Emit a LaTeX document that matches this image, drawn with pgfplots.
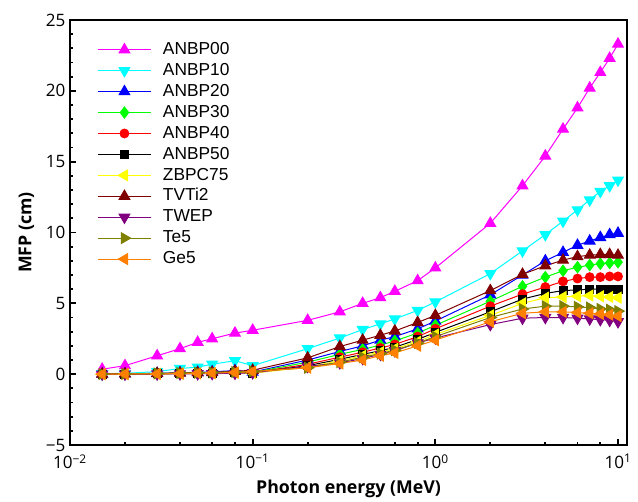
\documentclass[border=0pt]{standalone}
\usepackage{fontspec}
\setmainfont{Open Sans}
\newfontfamily\legfont{Liberation Sans}
\usepackage{pgfplots}
\usepackage{pgfplotstable}
\pgfplotsset{compat=1.18}

\definecolor{cMag}{RGB}{255,0,255}
\definecolor{cCyan}{RGB}{0,255,255}
\definecolor{cBlue}{RGB}{0,0,255}
\definecolor{cGreen}{RGB}{0,255,0}
\definecolor{cRed}{RGB}{255,0,0}
\definecolor{cBlack}{RGB}{0,0,0}
\definecolor{cYellow}{RGB}{255,255,0}
\definecolor{cMaroon}{RGB}{128,0,0}
\definecolor{cPurple}{RGB}{128,0,128}
\definecolor{cOlive}{RGB}{128,128,0}
\definecolor{cOrange}{RGB}{255,128,0}

\pgfplotstableread{
E     A00   A10   A20   A30   A40   A50   Z75   TV    TW    Te    Ge
0.015 0.35  0.03  0.01  0.01  0.00  0.00  0.00  0.01  0.00  0.01  0.00
0.02  0.6   0.06  0.02  0.01  0.01  0.00  0.00  0.02  0.00  0.02  0.01
0.03  1.3   0.18  0.06  0.04  0.03  0.02  0.02  0.05  0.01  0.05  0.02
0.04  1.8   0.4   0.10  0.08  0.06  0.05  0.04  0.08  0.02  0.08  0.04
0.05  2.25  0.5   0.13  0.10  0.08  0.06  0.05  0.10  0.03  0.10  0.06
0.06  2.5   0.7   0.17  0.12  0.10  0.08  0.07  0.12  0.04  0.12  0.08
0.08  2.9   0.95  0.25  0.18  0.15  0.12  0.10  0.20  0.06  0.15  0.12
0.1   3.1   0.6   0.15  0.12  0.10  0.08  0.07  0.28  0.10  0.20  0.18
0.2   3.8   1.8   1.0   0.85  0.7   0.6   0.5   1.15  0.55  0.45  0.45
0.3   4.4   2.55  1.6   1.4   1.2   1.05  0.95  1.95  0.8   0.85  0.75
0.4   5.0   3.15  2.0   1.75  1.55  1.4   1.3   2.4   1.1   1.2   1.0
0.5   5.4   3.55  2.4   2.05  1.85  1.65  1.55  2.75  1.4   1.45  1.3
0.6   5.85  3.9   2.65  2.35  2.1   1.9   1.8   3.05  1.65  1.7   1.5
0.8   6.6   4.5   3.2   2.9   2.65  2.45  2.3   3.65  2.2   2.2   2.0
1     7.5   5.1   3.75  3.45  3.2   2.95  2.8   4.15  2.55  2.65  2.4
2     10.65 7.1   5.6   5.15  4.8   4.4   4.15  5.9   3.5   4.0   3.7
3     13.3  8.7   7.0   6.2   5.65  5.3   5.0   7.05  3.95  4.6   4.3
4     15.4  9.85  8.0   6.85  6.15  5.7   5.4   7.65  4.0   4.8   4.4
5     17.3  10.8  8.6   7.3   6.55  5.9   5.45  8.05  4.0   4.8   4.4
6     18.8  11.6  9.1   7.55  6.75  5.95  5.5   8.3   3.95  4.75  4.35
7     20.2  12.3  9.4   7.7   6.85  6.0   5.55  8.4   3.9   4.7   4.3
8     21.3  12.9  9.65  7.8   6.85  6.0   5.5   8.45  3.85  4.6   4.25
9     22.3  13.3  9.85  7.85  6.9   5.95  5.45  8.45  3.8   4.55  4.2
10    23.3  13.7  9.95  7.9   6.9   5.95  5.4   8.4   3.7   4.45  4.1
}\data

\begin{document}
\begin{tikzpicture}
\begin{axis}[
  at={(0,0)}, anchor=south west,
  scale only axis,
  width=417.75pt, height=318.75pt,
  xmode=log,
  xmin=0.01, xmax=11.2,
  ymin=-5, ymax=25,
  axis line style={line width=1.6pt},
  tick align=inside,
  xtick pos=bottom, ytick pos=left,
  major tick length=4.5pt, minor tick length=2.6pt,
  every tick/.style={line width=1.3pt, black},
  xtick={0.01,0.1,1,10},
  xticklabels={10\textsuperscript{−2},10\textsuperscript{−1},10\textsuperscript{0},10\textsuperscript{1}},
  minor xtick={0.02,0.04,0.06,0.08,0.2,0.4,0.6,0.8,2,4,6,8},
  ytick={-5,0,5,10,15,20,25},
  yticklabels={−5,0,5,10,15,20,25},
  minor ytick={-4,-3,-2,-1,1,2,3,4,6,7,8,9,11,12,13,14,16,17,18,19,21,22,23,24},
  tick label style={font=\fontsize{12.8}{14}\selectfont},
  xticklabel style={yshift=-3.5pt},
  xlabel={\bfseries Photon energy (MeV)},
  ylabel={\bfseries MFP (cm)},
  label style={font=\fontsize{13.3}{15}\selectfont},
  x label style={at={(axis description cs:0.5,-0.104)}, anchor=center},
  y label style={at={(axis description cs:-0.078,0.5)}, anchor=center},
  legend cell align=left,
  legend style={at={(axis description cs:0.0485,0.9526)}, anchor=north west,
    draw=none, fill=none, inner sep=0pt, row sep=1.7pt,
    nodes={inner sep=1pt, text height=9.5pt, text depth=2.5pt},
    font=\legfont\fontsize{13}{15}\selectfont},
  legend image code/.code={\draw[mark repeat=2,mark phase=2] plot coordinates {(0pt,0pt)(20pt,0pt)(40pt,0pt)};\path (47.5pt,0pt);},
  every axis plot/.append style={line width=0.75pt},
]
\addplot[color=cMag, mark=triangle*, mark size=4.6pt] table[x=E,y=A00] {\data};
\addlegendentry{ANBP00}
\addplot[color=cCyan, mark=triangle*, mark options={rotate=180}, mark size=4.6pt] table[x=E,y=A10] {\data};
\addlegendentry{ANBP10}
\addplot[color=cBlue, mark=triangle*, mark size=4.6pt] table[x=E,y=A20] {\data};
\addlegendentry{ANBP20}
\addplot[color=cGreen, mark=diamond*, mark size=4.2pt] table[x=E,y=A30] {\data};
\addlegendentry{ANBP30}
\addplot[color=cRed, mark=*, mark size=3.3pt] table[x=E,y=A40] {\data};
\addlegendentry{ANBP40}
\addplot[color=cBlack, mark=square*, mark size=3.0pt] table[x=E,y=A50] {\data};
\addlegendentry{ANBP50}
\addplot[color=cYellow, mark=triangle*, mark options={rotate=90}, mark size=4.6pt] table[x=E,y=Z75] {\data};
\addlegendentry{ZBPC75}
\addplot[color=cMaroon, mark=triangle*, mark size=4.6pt] table[x=E,y=TV] {\data};
\addlegendentry{TVTi2}
\addplot[color=cPurple, mark=triangle*, mark options={rotate=180}, mark size=4.6pt] table[x=E,y=TW] {\data};
\addlegendentry{TWEP}
\addplot[color=cOlive, mark=triangle*, mark options={rotate=-90}, mark size=4.6pt] table[x=E,y=Te] {\data};
\addlegendentry{Te5}
\addplot[color=cOrange, mark=triangle*, mark options={rotate=90}, mark size=4.6pt] table[x=E,y=Ge] {\data};
\addlegendentry{Ge5}
\end{axis}
\pgfresetboundingbox
\path[use as bounding box] (-52.5pt,-42pt) rectangle (426pt,333.75pt);
\end{tikzpicture}
\end{document}
